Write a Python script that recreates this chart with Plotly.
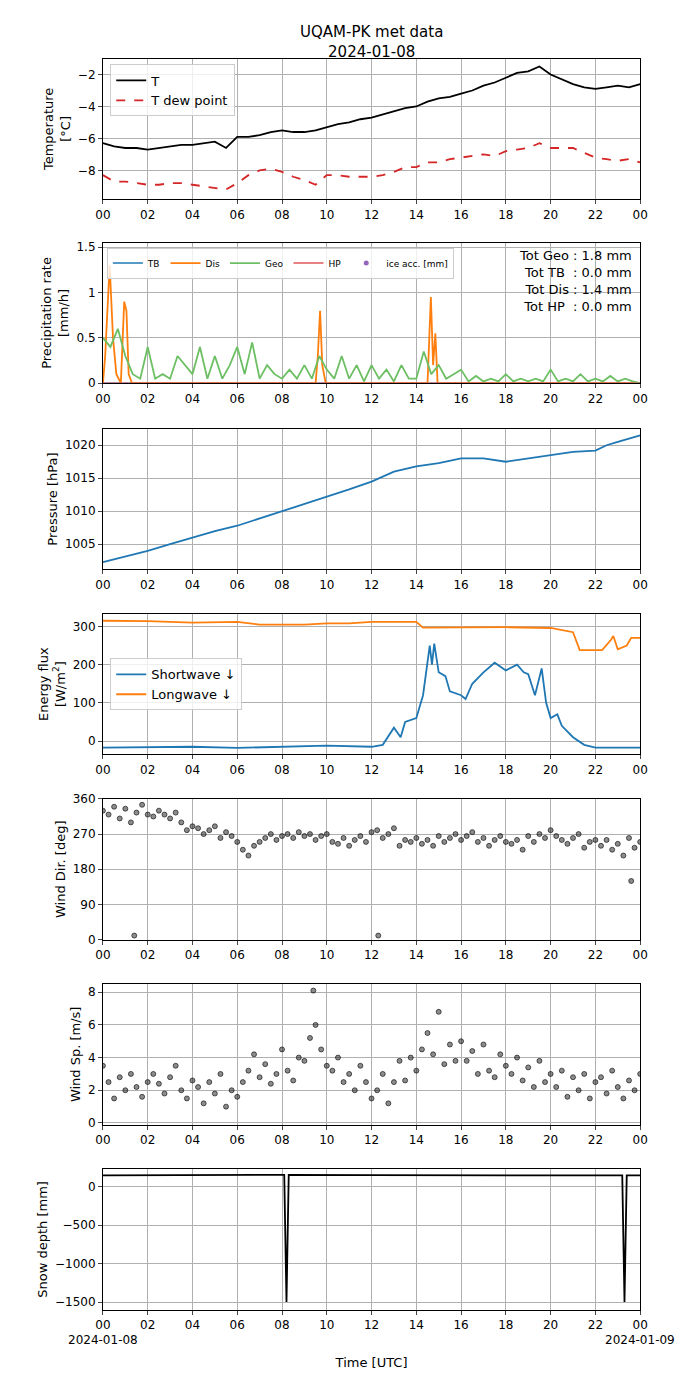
import plotly.graph_objects as go

# ---- data (hours UTC since 2024-01-08 00:00) ----
t_hours = [0, 0.5, 1, 1.5, 2, 2.5, 3, 3.5, 4, 4.5, 5, 5.5, 6, 6.5, 7, 7.5, 8, 8.5, 9, 9.5, 10, 10.5,
           11, 11.5, 12, 12.5, 13, 13.5, 14, 14.5, 15, 15.5, 16, 16.5, 17, 17.5, 18, 18.5, 19, 19.5,
           20, 20.5, 21, 21.5, 22, 22.5, 23, 23.5, 24]
temp = [-6.3, -6.5, -6.6, -6.6, -6.7, -6.6, -6.5, -6.4, -6.4, -6.3, -6.2, -6.6, -5.9, -5.9, -5.8, -5.6,
        -5.5, -5.6, -5.6, -5.5, -5.3, -5.1, -5.0, -4.8, -4.7, -4.5, -4.3, -4.1, -4.0, -3.7, -3.5, -3.4,
        -3.2, -3.0, -2.7, -2.5, -2.2, -1.9, -1.8, -1.5, -2.0, -2.3, -2.6, -2.8, -2.9, -2.8, -2.7, -2.8, -2.6]
dew = [-8.3, -8.7, -8.7, -8.8, -8.9, -8.9, -8.8, -8.8, -8.9, -9.0, -9.1, -9.2, -8.8, -8.3, -8.0, -7.9,
       -8.1, -8.4, -8.6, -8.9, -8.3, -8.3, -8.4, -8.4, -8.4, -8.3, -8.1, -7.8, -7.8, -7.5, -7.5, -7.3,
       -7.2, -7.1, -7.0, -7.1, -6.8, -6.7, -6.6, -6.3, -6.6, -6.6, -6.6, -6.9, -7.2, -7.3, -7.4, -7.3, -7.5]

geo_t = [i / 3 for i in range(73)]
geo = [0.5, 0.4, 0.6, 0.3, 0.1, 0.05, 0.4, 0.05, 0.1, 0.05, 0.3, 0.2, 0.1, 0.4, 0.05, 0.3, 0.05, 0.2,
       0.4, 0.1, 0.45, 0.05, 0.2, 0.1, 0.05, 0.15, 0.05, 0.2, 0.05, 0.3, 0.15, 0.05, 0.3, 0.05, 0.2, 0.02,
       0.2, 0.05, 0.15, 0.02, 0.2, 0.05, 0.05, 0.35, 0.1, 0.2, 0.05, 0.1, 0.15, 0.02, 0.08, 0.02, 0.05, 0.02,
       0.1, 0.02, 0.05, 0.02, 0.05, 0.02, 0.15, 0.02, 0.05, 0.02, 0.1, 0.02, 0.05, 0.02, 0.08, 0.02, 0.05, 0.02, 0.0]
dis_t = [0, 0.1, 0.3, 0.45, 0.6, 0.8, 0.95, 1.05, 1.15, 1.3, 1.5, 9.5, 9.6, 9.7, 9.8, 9.95, 14.5, 14.65,
         14.75, 14.85, 14.95, 24]
dis = [0.0, 0.3, 1.3, 0.5, 0.1, 0.0, 0.9, 0.8, 0.1, 0.0, 0.0, 0.0, 0.3, 0.8, 0.2, 0.0, 0.0, 0.95, 0.2,
       0.55, 0.0, 0.0]
tb_t = [0, 24]
tb = [0, 0]
hp_t = [0, 24]
hp = [0, 0]
totals = {"Geo": 1.8, "TB": 0.0, "Dis": 1.4, "HP": 0.0}

pres_t = [0, 1, 2, 3, 4, 5, 6, 7, 8, 9, 10, 11, 12, 13, 14, 15, 16, 17, 18, 19, 20, 21, 22, 22.5, 23, 24]
pres = [1002.3, 1003.1, 1004.0, 1005.0, 1006.0, 1007.0, 1007.8, 1008.9, 1010.0, 1011.0, 1012.2, 1013.3,
        1014.5, 1016.0, 1016.8, 1017.3, 1018.0, 1018.0, 1017.5, 1018.0, 1018.5, 1019.0, 1019.2, 1020.0,
        1020.5, 1021.5]

sw_t = [0, 4, 6, 8, 10, 12, 12.5, 13, 13.3, 13.5, 14, 14.3, 14.6, 14.7, 14.8, 15, 15.3, 15.5, 16, 16.2,
        16.5, 17, 17.5, 18, 18.5, 18.8, 19, 19.3, 19.6, 19.8, 20, 20.3, 20.5, 21, 21.5, 22, 24]
sw = [-17, -15, -18, -14, -12, -15, -10, 35, 10, 50, 60, 120, 250, 200, 255, 180, 170, 130, 120, 110,
      150, 180, 205, 185, 200, 180, 175, 120, 190, 100, 60, 70, 40, 10, -10, -17, -17]
lw_t = [0, 2, 4, 6, 7, 9, 10, 11, 12, 14, 14.3, 16, 18, 20, 20.5, 21, 21.3, 22.3, 22.7, 22.8, 23, 23.4, 23.6, 24]
lw = [315, 314, 310, 312, 305, 305, 308, 308, 312, 312, 297, 298, 298, 296, 290, 285, 238, 238, 265,
      275, 240, 250, 270, 270]

wind_t = [i / 4 for i in range(97)]
wdir = [330, 320, 340, 310, 335, 300, 325, 345, 320,
        315, 330, 320, 310, 325, 300, 280, 290,
        285, 270, 280, 290, 260, 275, 265, 250,
        230, 215, 240, 250, 260, 270, 255, 265,
        270, 260, 275, 265, 270, 255, 265, 270,
        250, 245, 260, 240, 255, 265, 250, 275,
        280, 260, 270, 285, 240, 255, 250, 260,
        245, 255, 240, 265, 250, 260, 270, 255,
        265, 275, 250, 260, 240, 255, 265, 250,
        245, 255, 230, 265, 250, 270, 260, 280,
        265, 255, 245, 260, 270, 235, 250, 255,
        240, 255, 230, 245, 215, 260, 235, 250]
wdir_out_t = [1.4, 12.3, 23.6]
wdir_out = [10, 10, 150]
wspd = [3.5, 2.5, 1.5, 2.8, 2.0, 3.0, 2.2, 1.6, 2.5,
        3.0, 2.4, 1.8, 2.8, 3.5, 2.0, 1.5, 2.6,
        2.2, 1.2, 2.5, 1.8, 3.0, 1.0, 2.0, 1.6,
        2.5, 3.2, 4.2, 2.8, 3.6, 2.4, 3.0, 4.5,
        3.2, 2.6, 4.0, 3.8, 5.2, 6.0, 4.5, 3.5,
        3.2, 4.0, 2.5, 3.0, 2.0, 3.5, 2.5, 1.5,
        2.0, 3.0, 1.2, 2.5, 3.8, 2.6, 4.0, 3.2,
        4.5, 5.5, 4.2, 6.8, 3.6, 4.8, 3.8, 5.0,
        3.8, 4.4, 3.0, 4.8, 3.2, 2.8, 4.2, 3.5,
        3.0, 4.0, 2.6, 3.4, 2.2, 3.8, 2.5, 3.0,
        2.2, 3.2, 1.6, 2.8, 2.0, 3.0, 1.5, 2.5,
        2.8, 1.8, 3.2, 2.2, 1.5, 2.6, 2.0, 3.0]
wspd_out_t = [9.4]
wspd_out = [8.1]

snow_t = [0, 4, 8.1, 8.2, 8.3, 12, 16, 20, 23.2, 23.3, 23.4, 24]
snow = [150, 155, 155, -1500, 155, 152, 150, 148, 148, -1500, 148, 148]

tick_vals = list(range(0, 25, 2))
tick_text = ["%02d" % (v % 24) for v in tick_vals]

# ---- layout ----
H = 1377
tops = [44, 230, 418, 605, 792, 979, 1166]
ph = 142

fig = go.Figure()
fig.add_trace(go.Scatter(x=t_hours, y=temp, mode="lines", line=dict(color="black", width=1.8), name="T", xaxis="x", yaxis="y", legend="legend"))
fig.add_trace(go.Scatter(x=t_hours, y=dew, mode="lines", line=dict(color="#d62728", width=1.8, dash="dash"), name="T dew point", xaxis="x", yaxis="y", legend="legend"))

fig.add_trace(go.Scatter(x=tb_t, y=tb, mode="lines", line=dict(color="#1f77b4", width=1.5), name="TB", xaxis="x2", yaxis="y2", legend="legend2"))
fig.add_trace(go.Scatter(x=dis_t, y=dis, mode="lines", line=dict(color="#ff7f0e", width=1.8), name="Dis", xaxis="x2", yaxis="y2", legend="legend2"))
fig.add_trace(go.Scatter(x=geo_t, y=geo, mode="lines", line=dict(color="#6cbf63", width=1.8), name="Geo", xaxis="x2", yaxis="y2", legend="legend2"))
fig.add_trace(go.Scatter(x=hp_t, y=hp, mode="lines", line=dict(color="#e0575a", width=1.5), name="HP", xaxis="x2", yaxis="y2", legend="legend2"))
fig.add_trace(go.Scatter(x=[None], y=[None], mode="markers", marker=dict(color="#9467bd", size=5), name="ice acc. [mm]", xaxis="x2", yaxis="y2", legend="legend2"))

fig.add_trace(go.Scatter(x=pres_t, y=pres, mode="lines", line=dict(color="#1f77b4", width=1.8), showlegend=False, xaxis="x3", yaxis="y3"))

fig.add_trace(go.Scatter(x=sw_t, y=sw, mode="lines", line=dict(color="#1f77b4", width=1.8), name="Shortwave ↓", xaxis="x4", yaxis="y4", legend="legend3"))
fig.add_trace(go.Scatter(x=lw_t, y=lw, mode="lines", line=dict(color="#ff7f0e", width=1.8), name="Longwave ↓", xaxis="x4", yaxis="y4", legend="legend3"))

mk = dict(color="rgba(0,0,0,0.45)", size=5, line=dict(color="black", width=0.6))
fig.add_trace(go.Scatter(x=wind_t + wdir_out_t, y=wdir + wdir_out, mode="markers", marker=mk, showlegend=False, xaxis="x5", yaxis="y5"))
fig.add_trace(go.Scatter(x=wind_t + wspd_out_t, y=wspd + wspd_out, mode="markers", marker=mk, showlegend=False, xaxis="x6", yaxis="y6"))
fig.add_trace(go.Scatter(x=snow_t, y=snow, mode="lines", line=dict(color="black", width=1.8), showlegend=False, xaxis="x7", yaxis="y7"))

axis_style = dict(showline=True, linecolor="black", mirror=True, ticks="outside", ticklen=4,
                  showgrid=True, gridcolor="#b0b0b0", zeroline=False, tickfont=dict(size=12))
yranges = [[-9.8, -1.0], [0, 1.55], [1001.2, 1022.5], [-35, 333], [0, 360], [-0.1, 8.5], [-1600, 230]]
ytitles = ["Temperature<br>[°C]", "Precipitation rate<br>[mm/h]", "Pressure [hPa]",
           "Energy flux<br>[W/m<sup>2</sup>]", "Wind Dir. [deg]", "Wind Sp. [m/s]", "Snow depth [mm]"]
ytick_sets = [None, [0, 0.5, 1.0, 1.5], None, [0, 100, 200, 300], [0, 90, 180, 270, 360], [0, 2, 4, 6, 8], None]

lay = {}
for i in range(7):
    n = "" if i == 0 else str(i + 1)
    top, bot = 1 - tops[i] / H, 1 - (tops[i] + ph) / H
    lay["xaxis" + n] = dict(axis_style, domain=[89 / 689, 639 / 689], range=[0, 24], tickvals=tick_vals,
                            ticktext=tick_text, anchor="y" + n)
    ya = dict(axis_style, domain=[bot, top], range=yranges[i], anchor="x" + n,
              title=dict(text=ytitles[i], font=dict(size=13), standoff=4))
    if ytick_sets[i]:
        ya["tickvals"] = ytick_sets[i]
    lay["yaxis" + n] = ya
lay["xaxis7"]["title"] = dict(text="Time [UTC]", font=dict(size=13), standoff=26)

fig.update_layout(**lay)
fig.update_layout(
    width=689, height=1377, margin=dict(l=0, r=0, t=0, b=0),
    plot_bgcolor="white", paper_bgcolor="white",
    font=dict(family="DejaVu Sans", color="black", size=12),
    legend=dict(x=0.14, y=1 - 50 / H, xanchor="left", yanchor="top", bordercolor="#cccccc", borderwidth=1,
                font=dict(size=13), bgcolor="rgba(255,255,255,0.8)"),
    legend2=dict(x=0.135, y=1 - 235 / H, xanchor="left", yanchor="top", orientation="h", bordercolor="#cccccc",
                 borderwidth=1, font=dict(size=9), bgcolor="rgba(255,255,255,0.8)"),
    legend3=dict(x=0.14, y=1 - 650 / H, xanchor="left", yanchor="top", bordercolor="#cccccc", borderwidth=1,
                 font=dict(size=13), bgcolor="rgba(255,255,255,0.8)"),
    annotations=[
        dict(text="UQAM-PK met data<br>2024-01-08", x=364 / 689, y=1 - 6 / H, xref="paper", yref="paper",
             xanchor="center", yanchor="top", showarrow=False, font=dict(size=15)),
        dict(text="Tot Geo : %.1f mm<br> Tot TB  : %.1f mm<br> Tot Dis : %.1f mm<br> Tot HP  : %.1f mm"
             % (totals["Geo"], totals["TB"], totals["Dis"], totals["HP"]),
             x=633 / 689, y=1 - 233 / H, xref="paper", yref="paper", xanchor="right", yanchor="top",
             align="right", showarrow=False, font=dict(size=13)),
        dict(text="2024-01-08", x=0, y=-0.15, xref="x7", yref="y7 domain", yanchor="top", showarrow=False, font=dict(size=12)),
        dict(text="2024-01-09", x=24, y=-0.15, xref="x7", yref="y7 domain", yanchor="top", showarrow=False, font=dict(size=12)),
    ],
)
fig.write_html("out.html")
